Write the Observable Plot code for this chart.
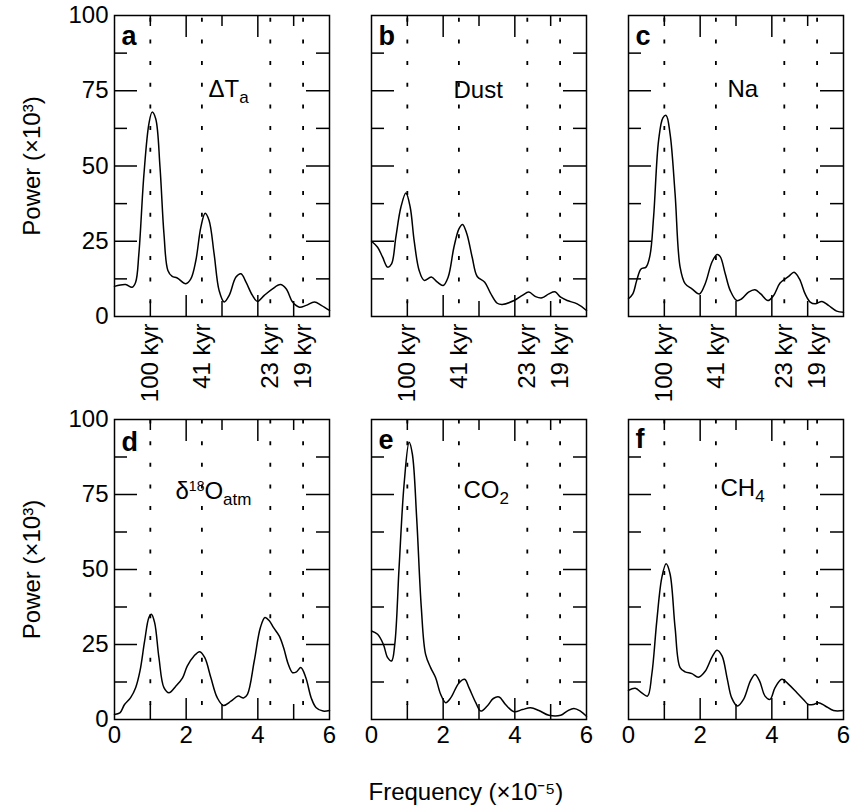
<!DOCTYPE html>
<html><head><meta charset="utf-8">
<script src="https://cdn.jsdelivr.net/npm/d3@7"></script>
<script src="https://cdn.jsdelivr.net/npm/@observablehq/plot@0.6"></script>
<style>
html,body{margin:0;padding:0;background:#fff;overflow:hidden}
#chart{position:relative;width:850px;height:806px;background:#fff}
#chart svg{position:absolute;overflow:visible}
</style></head><body><div id="chart"></div>
<script>
// ---- data (frequency ×1e-5, power ×1e3) ----
const seriesDeltaTa = [[0,10.0],[0.31,10.6],[0.49,9.7],[0.59,11.4],[0.68,20.8],[0.82,47],[0.96,64],[1.05,67.9],[1.15,65.7],[1.27,49.6],[1.38,27.5],[1.49,15.3],[1.61,13.3],[1.75,12.8],[1.99,10.9],[2.13,12.5],[2.27,18.6],[2.41,29.7],[2.53,34.3],[2.64,31.9],[2.78,20.8],[2.92,8.6],[3.06,4.8],[3.2,7.0],[3.39,13.1],[3.53,14.2],[3.67,11.4],[3.85,7.0],[3.99,5.0],[4.18,7.0],[4.41,9.2],[4.63,10.6],[4.79,9.2],[4.97,4.8],[5.16,3.1],[5.35,3.7],[5.58,4.8],[5.77,3.7],[6.0,2.0]];
const seriesDust = [[0,25.0],[0.17,23.0],[0.31,19.7],[0.45,16.4],[0.56,17.5],[0.68,26.4],[0.82,36.3],[0.96,41.0],[1.08,36.3],[1.19,25.2],[1.33,15.3],[1.47,12.0],[1.67,13.1],[1.84,11.4],[2.0,10.3],[2.14,13.1],[2.3,23.0],[2.44,29.1],[2.54,30.6],[2.66,27.5],[2.81,19.7],[2.95,13.3],[3.16,11.4],[3.32,7.8],[3.51,4.4],[3.65,4.0],[3.98,5.3],[4.21,7.0],[4.39,8.1],[4.58,6.6],[4.76,6.2],[4.95,7.5],[5.12,8.2],[5.28,6.4],[5.46,5.3],[5.74,4.2],[6.0,2.0]];
const seriesNa = [[0,5.9],[0.12,7.5],[0.23,12.0],[0.35,15.8],[0.49,16.4],[0.6,20.3],[0.7,33.0],[0.84,58.5],[0.96,66.0],[1.05,66.8],[1.16,60.7],[1.3,40.8],[1.44,16.4],[1.58,10.9],[1.77,9.2],[1.98,7.5],[2.14,10.9],[2.33,18.1],[2.47,20.6],[2.56,19.9],[2.7,14.2],[2.84,8.6],[3.02,5.3],[3.16,5.9],[3.35,8.1],[3.53,8.9],[3.69,7.5],[3.89,5.3],[4.05,7.0],[4.23,11.1],[4.47,13.3],[4.62,14.7],[4.77,12.5],[4.93,7.5],[5.07,4.8],[5.21,4.2],[5.4,5.0],[5.58,3.7],[5.81,1.8],[6.0,1.4]];
const seriesD18O = [[0,1.7],[0.15,2.2],[0.28,5.0],[0.45,7.3],[0.59,10.6],[0.71,16.1],[0.84,26.1],[0.96,34.0],[1.03,35.1],[1.12,32.3],[1.24,20.6],[1.38,10.6],[1.52,8.9],[1.71,11.1],[1.9,13.9],[2.03,17.8],[2.22,21.2],[2.38,22.6],[2.52,20.6],[2.69,13.9],[2.87,7.2],[3.04,4.7],[3.25,6.1],[3.45,7.8],[3.6,7.2],[3.71,8.4],[3.9,19.5],[4.07,30.6],[4.2,34.0],[4.32,32.9],[4.44,30.6],[4.6,27.8],[4.72,23.9],[4.85,18.4],[4.97,15.6],[5.08,15.9],[5.2,17.3],[5.34,13.9],[5.49,7.2],[5.63,3.9],[5.82,2.8],[6.0,3.0]];
const seriesCO2 = [[0,29.5],[0.17,28.4],[0.33,25.1],[0.45,20.6],[0.56,19.5],[0.65,25.1],[0.77,50.7],[0.91,78.5],[1.05,92.4],[1.14,88.5],[1.26,67.3],[1.39,37.3],[1.51,21.7],[1.65,17.3],[1.79,13.9],[1.93,8.4],[2.07,5.6],[2.21,7.2],[2.44,12.2],[2.6,13.4],[2.72,10.6],[2.91,5.6],[3.05,2.8],[3.23,4.5],[3.4,7.0],[3.56,7.5],[3.74,5.0],[3.98,2.6],[4.21,3.3],[4.44,3.9],[4.67,3.0],[4.95,1.4],[5.28,1.4],[5.46,2.8],[5.65,3.7],[5.83,2.8],[6.0,1.1]];
const seriesCH4 = [[0,9.7],[0.19,10.4],[0.37,8.9],[0.53,7.8],[0.65,15.0],[0.79,32.9],[0.93,47.3],[1.05,51.9],[1.16,48.5],[1.3,30.6],[1.44,17.3],[1.58,15.9],[1.77,15.3],[1.95,14.1],[2.14,16.1],[2.33,20.8],[2.47,23.1],[2.61,21.2],[2.75,13.9],[2.88,7.2],[3.04,4.5],[3.21,6.7],[3.4,12.8],[3.53,15.0],[3.66,12.8],[3.81,7.8],[3.95,6.7],[4.09,10.6],[4.28,13.4],[4.47,11.7],[4.7,8.9],[4.88,6.7],[5.02,5.0],[5.16,5.0],[5.3,5.6],[5.49,4.5],[5.72,3.0],[6.0,3.0]];

const orbitalFreq = [1.0, 2.439, 4.348, 5.263];
const orbitalLabels = ["100 kyr", "41 kyr", "23 kyr", "19 kyr"];
const yTickLabels = [0, 25, 50, 75, 100];
const yMajorTicks = [25, 50, 75];
const yMinorTicks = [12.5, 37.5, 62.5, 87.5];
const xMajorTicks = [2, 4];
const xMinorTicks = [1, 3, 5];
const xTickLabels = [0, 2, 4, 6];
const panelLetters = ["a", "b", "c", "d", "e", "f"];
const panelNames = ["ΔT_{a}", "Dust", "Na", "δ^{18}O_{atm}", "CO_{2}", "CH_{4}"];
const yTitle = "Power (×10³)";
const xTitle = "Frequency (×10⁻⁵)";

// ---- layout ----
const series = [seriesDeltaTa, seriesDust, seriesNa, seriesD18O, seriesCO2, seriesCH4];
const FONT = "'Liberation Sans', Arial, Helvetica, sans-serif";
const colLeft = [114, 371, 628], rowTop = [15, 419], rowH = [301, 300], W = 215;
const nameOffset = [[94, 81], [82, 82], [99, 81], [61, 79], [92, 78], [92, 76]];
const letterOffset = [29, 29, 29, 31, 29, 28];
const NAME_FS = 24, AXIS_FS = 24;

function richText(node) {
  const s = node.textContent;
  const re = /([_^])\{([^}]*)\}|([^_^]+)/g;
  while (node.firstChild) node.removeChild(node.firstChild);
  let cur = 0, m;
  while ((m = re.exec(s))) {
    let t = 0, fs = NAME_FS, txt;
    if (m[3] !== undefined) { txt = m[3]; }
    else if (m[1] === "_") { txt = m[2]; t = 6; fs = 17; }
    else { txt = m[2]; t = -8; fs = 14; }
    const ts = document.createElementNS("http://www.w3.org/2000/svg", "tspan");
    ts.setAttribute("dy", t - cur);
    ts.setAttribute("font-size", fs);
    ts.textContent = txt;
    node.appendChild(ts);
    cur = t;
  }
}

function makePanel(i) {
  const row = Math.floor(i / 3), col = i % 3;
  const H = rowH[row];
  const ml = col === 0 ? 114 : 20, mr = 8, mt = 14, mb = 90;
  const stroke = "#000";
  const marks = [
    Plot.ruleX(orbitalFreq, {stroke, strokeWidth: 1.8, strokeDasharray: "4,17.65", strokeDashoffset: row === 0 ? -2.8 : -0.5}),
    Plot.tickX(xMajorTicks, {stroke, strokeWidth: 1.5, insetBottom: H - 22}),
    Plot.tickX(xMinorTicks, {stroke, strokeWidth: 1.5, insetBottom: H - 11}),
    Plot.tickX(xMajorTicks, {stroke, strokeWidth: 1.5, insetTop: H - 21}),
    Plot.tickX(xMinorTicks, {stroke, strokeWidth: 1.5, insetTop: H - 15}),
    Plot.tickY(yMajorTicks, {stroke, strokeWidth: 1.5, insetRight: W - 23}),
    Plot.tickY(yMinorTicks, {stroke, strokeWidth: 1.5, insetRight: W - 13}),
    Plot.tickY(yMajorTicks, {stroke, strokeWidth: 1.5, insetLeft: W - 23}),
    Plot.tickY(yMinorTicks, {stroke, strokeWidth: 1.5, insetLeft: W - 13}),
    Plot.line(series[i], {x: d => d[0], y: d => d[1], curve: "catmull-rom", stroke, strokeWidth: 1.5}),
    Plot.frame({stroke, strokeWidth: 1.5}),
    Plot.text([panelLetters[i]], {text: d => d, frameAnchor: "top-left", textAnchor: "start", lineAnchor: "bottom", dx: 7, dy: letterOffset[i], fontSize: 27, fontWeight: "bold", fill: "#000"}),
    Plot.text([panelNames[i]], {text: d => d, frameAnchor: "top-left", textAnchor: "start", lineAnchor: "bottom", dx: nameOffset[i][0], dy: nameOffset[i][1], fontSize: NAME_FS, fill: "#000"})
  ];
  if (col === 0) {
    marks.push(Plot.axisY(yTickLabels, {anchor: "left", tickSize: 0, tickPadding: 6, fontSize: AXIS_FS, label: yTitle, labelAnchor: "center", labelOffset: 92, labelArrow: "none"}));
  }
  if (row === 0) {
    marks.push(Plot.axisX(orbitalFreq, {anchor: "bottom", tickSize: 0, tickPadding: 7, tickRotate: -90, fontSize: AXIS_FS, tickFormat: d => orbitalLabels[orbitalFreq.indexOf(d)], label: null}));
  } else {
    marks.push(Plot.axisX(xTickLabels, {anchor: "bottom", tickSize: 0, tickPadding: 6, fontSize: AXIS_FS, label: null}));
  }
  if (i === 4) {
    marks.push(Plot.text([xTitle], {text: d => d, frameAnchor: "bottom-left", textAnchor: "start", lineAnchor: "bottom", dx: -3, dy: 80, fontSize: AXIS_FS, fill: "#000"}));
  }
  const svg = Plot.plot({
    width: ml + W + mr, height: mt + H + mb,
    marginLeft: ml, marginRight: mr, marginTop: mt, marginBottom: mb,
    x: {domain: [0, 6], axis: null},
    y: {domain: [0, 100], axis: null},
    style: {fontFamily: FONT, color: "#000", background: "transparent", overflow: "visible"},
    marks
  });
  svg.style.left = (colLeft[col] - ml) + "px";
  svg.style.top = (rowTop[row] - mt) + "px";
  svg.style.maxWidth = "none";
  svg.querySelectorAll("text").forEach(t => { if (/[_^]\{/.test(t.textContent)) richText(t); });
  return svg;
}

const chart = document.getElementById("chart");
for (let i = 0; i < 6; i++) chart.appendChild(makePanel(i));
</script></body></html>
